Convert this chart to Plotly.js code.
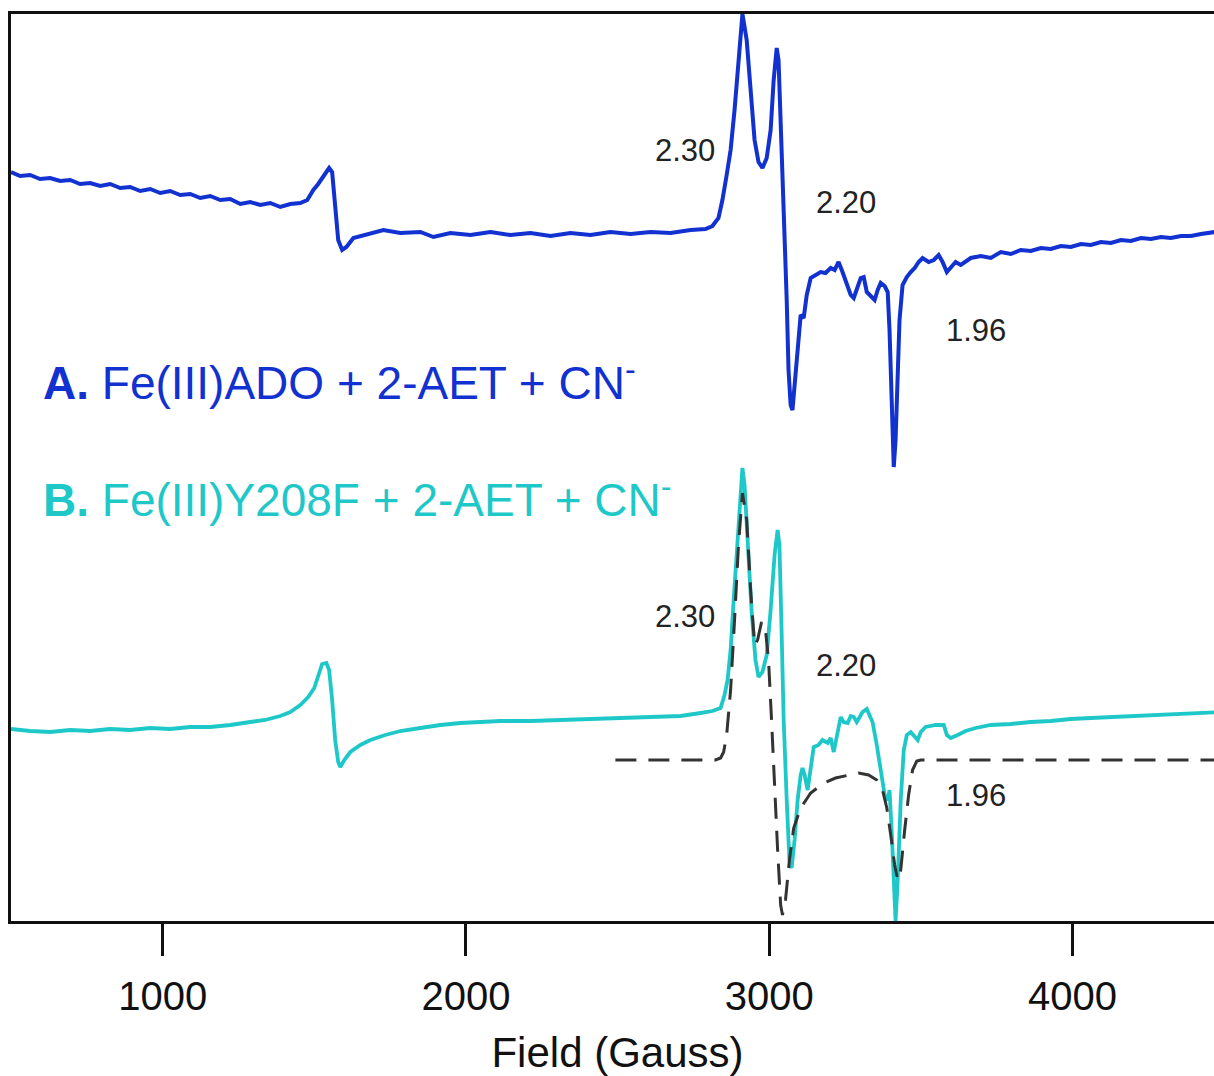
<!DOCTYPE html>
<html>
<head>
<meta charset="utf-8">
<script src="https://cdn.plot.ly/plotly-3.0.1.min.js"></script>
<style>
html,body{margin:0;padding:0;background:#fff;overflow:hidden;}
#chart{width:1224px;height:1076px;}
</style>
</head>
<body>
<div id="chart"></div>
<script>
// Field axis (Gauss)
const tickValues = [1000, 2000, 3000, 4000];
const tickLabels = ["1000", "2000", "3000", "4000"];

// Spectrum A: Fe(III)ADO + 2-AET + CN-  (field in G, intensity in arbitrary units)
const fieldA = [500,530,563,596,629,662,695,728,761,794,827,860,893,926,959,992,1025,1058,1091,1124,1157,1190,1223,1256,1289,1322,1355,1388,1421,1454,1477,1497,1513,1530,1549,1559,1569,1579,1592,1606,1629,1652,1685,1728,1784,1850,1893,1949,2015,2081,2147,2213,2279,2345,2411,2477,2543,2609,2675,2741,2790,2813,2833,2846,2860,2873,2886,2899,2912,2926,2939,2952,2965,2978,2992,3005,3015,3025,3031,3038,3048,3058,3064,3071,3077,3084,3094,3104,3114,3124,3137,3153,3170,3186,3203,3216,3229,3242,3256,3269,3279,3292,3302,3312,3322,3335,3348,3358,3368,3381,3391,3397,3404,3411,3417,3424,3430,3440,3454,3467,3480,3493,3506,3526,3543,3559,3572,3586,3599,3615,3632,3665,3698,3731,3764,3797,3830,3863,3896,3929,3962,3995,4028,4061,4094,4127,4160,4193,4226,4259,4292,4325,4358,4391,4424,4470,4500];
const signalA = [749,745,746,742,743,740,741,737,738,735,737,733,734,730,732,728,730,726,727,723,725,721,722,717,719,716,718,714,717,718,721,731,737,745,753,749,714,681,671,674,683,685,688,691,688,689,684,688,686,689,686,688,685,688,686,689,687,689,688,691,692,695,703,721,746,771,811,866,907,881,826,781,759,753,763,791,841,873,861,801,721,621,551,516,511,536,581,606,603,626,643,646,649,648,653,651,659,649,636,626,623,636,643,644,629,625,621,631,638,635,629,591,521,454,481,541,601,636,644,649,653,659,663,659,661,666,659,649,653,659,656,663,665,663,669,667,671,670,673,672,675,674,677,676,679,678,681,680,683,682,684,683,685,685,687,689,689];

// Spectrum B: Fe(III)Y208F + 2-AET + CN-
const fieldB = [500,563,629,695,761,827,893,959,1025,1091,1157,1223,1289,1338,1388,1421,1454,1480,1500,1513,1526,1540,1549,1559,1569,1579,1586,1599,1619,1652,1685,1734,1784,1850,1916,1982,2048,2114,2213,2312,2411,2510,2609,2708,2774,2813,2840,2853,2863,2873,2883,2896,2906,2912,2919,2929,2942,2955,2965,2978,2992,3005,3018,3028,3034,3041,3048,3058,3067,3074,3084,3094,3104,3110,3117,3127,3137,3147,3163,3176,3193,3203,3213,3223,3236,3246,3259,3269,3279,3289,3298,3308,3322,3331,3341,3355,3368,3381,3391,3397,3404,3411,3417,3424,3434,3444,3454,3467,3480,3490,3500,3516,3549,3576,3586,3599,3622,3648,3681,3731,3797,3863,3929,3995,4061,4127,4193,4259,4325,4391,4470,4500];
const signalB = [192,190,189,191,190,192,191,193,192,194,194,196,199,201,205,209,216,224,233,246,257,258,251,221,181,159,154,161,169,176,181,186,190,193,196,198,199,200,200,201,202,203,204,205,208,210,213,226,241,271,321,381,431,453,436,381,311,261,244,249,266,311,366,391,376,291,201,121,61,53,81,121,146,153,146,131,156,174,176,181,178,183,169,186,204,199,198,205,204,199,203,209,212,206,199,176,151,126,121,131,91,31,0,41,121,171,186,189,185,181,189,194,196,196,186,183,186,190,193,196,197,199,200,202,203,204,205,206,207,208,209,209];

// Simulation for spectrum B (dashed)
const fieldSim = [2493,2774,2823,2840,2850,2860,2873,2886,2899,2912,2926,2939,2952,2962,2975,2988,2998,3008,3018,3028,3038,3044,3054,3067,3081,3104,3137,3180,3219,3252,3295,3328,3355,3374,3388,3401,3414,3424,3434,3447,3460,3473,3487,3500,4500];
const signalSim = [161,161,161,163,169,186,231,301,376,428,401,331,276,281,299,291,261,201,131,71,16,6,21,61,93,113,128,138,143,145,148,146,141,131,113,86,56,41,51,91,126,151,160,161,161];

// g-value labels [field, intensity, text]
const gFields = [2721, 3252, 3681, 2721, 3252, 3681];
const gSignals = [771, 719, 591, 305, 256, 126];
const gTexts = ["2.30", "2.20", "1.96", "2.30", "2.20", "1.96"];

const seriesLabels = [
  "<b>A.</b> Fe(III)ADO + 2-AET + CN<sup>-</sup>",
  "<b>B.</b> Fe(III)Y208F + 2-AET + CN<sup>-</sup>"
];
const labelFields = [598, 598];
const labelSignals = [541, 424];

const blue = "#1131d0";
const cyan = "#1fc8c8";
const FONT = "Liberation Sans, Arial, Helvetica, sans-serif";

const traces = [
  {x: fieldA, y: signalA, mode: "lines", line: {color: blue, width: 4}, hoverinfo: "skip"},
  {x: fieldB, y: signalB, mode: "lines", line: {color: cyan, width: 3.8}, hoverinfo: "skip"},
  {x: fieldSim, y: signalSim, mode: "lines", line: {color: "#333333", width: 3, dash: "21px,12px"}, hoverinfo: "skip"}
];

const annotations = [];
for (let i = 0; i < gTexts.length; i++) {
  annotations.push({x: gFields[i], y: gSignals[i], xref: "x", yref: "y", text: gTexts[i],
    showarrow: false, font: {family: FONT, size: 31, color: "#222"}});
}
const labelColors = [blue, cyan];
for (let i = 0; i < seriesLabels.length; i++) {
  annotations.push({x: labelFields[i], y: labelSignals[i], xref: "x", yref: "y", text: seriesLabels[i],
    xanchor: "left", showarrow: false, font: {family: FONT, size: 46, color: labelColors[i]}});
}

const layout = {
  width: 1224, height: 1076,
  margin: {l: 11, r: 0, t: 14, b: 155},
  paper_bgcolor: "#fff", plot_bgcolor: "#fff",
  showlegend: false,
  font: {family: FONT, color: "#111"},
  xaxis: {
    range: [500, 4500], showgrid: false, zeroline: false,
    showline: true, linewidth: 3, linecolor: "#111", mirror: true,
    ticks: "outside", ticklen: 32, tickwidth: 3, tickcolor: "#111",
    ticklabelstandoff: 6,
    tickvals: tickValues, ticktext: tickLabels,
    tickfont: {family: FONT, size: 40, color: "#111"},
    title: {text: "Field (Gauss)", font: {family: FONT, size: 42, color: "#111"}, standoff: 26}
  },
  yaxis: {
    range: [0, 907], showgrid: false, zeroline: false,
    showline: true, linewidth: 3, linecolor: "#111", mirror: true,
    showticklabels: false, ticks: ""
  },
  annotations: annotations
};

Plotly.newPlot("chart", traces, layout, {staticPlot: true, displayModeBar: false});
</script>
</body>
</html>
